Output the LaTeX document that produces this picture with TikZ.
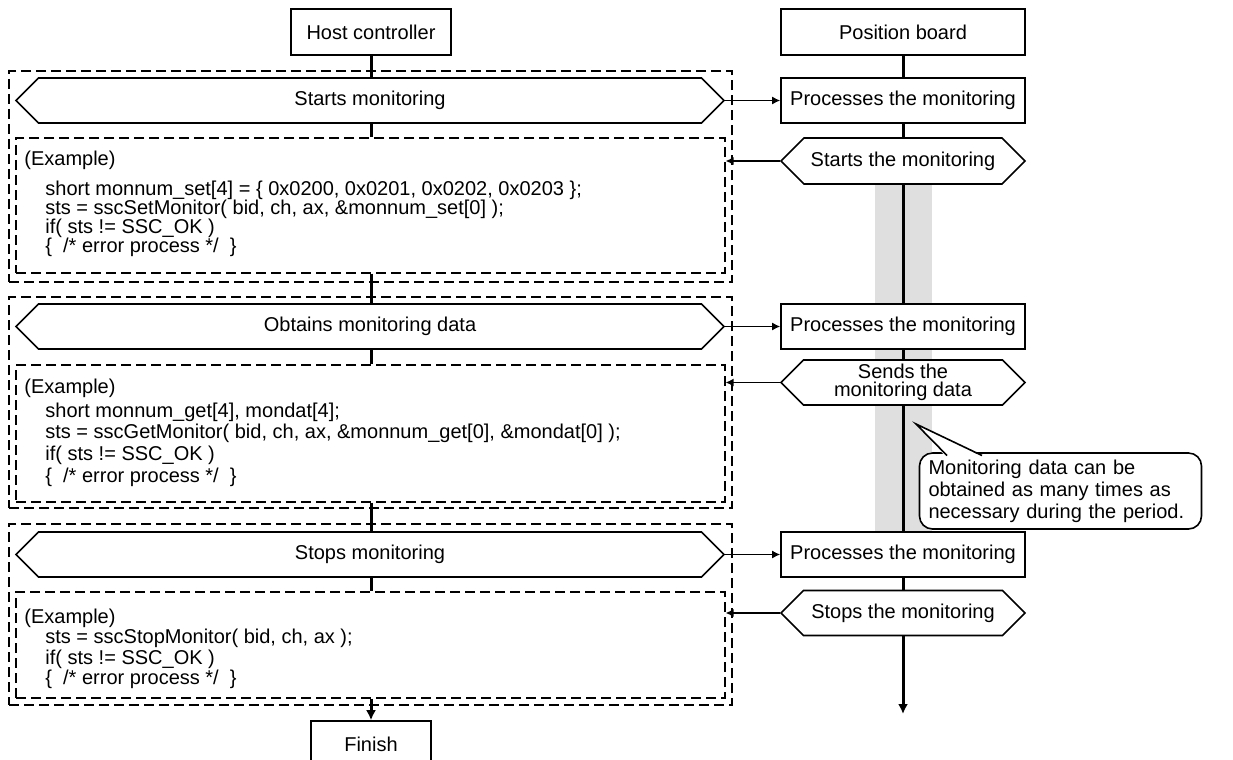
\documentclass[tikz,border=0pt]{standalone}
\usepackage{fontspec}
\setmainfont{Liberation Sans}
\usetikzlibrary{shapes.symbols}
\usetikzlibrary{arrows.meta}

\tikzset{
  box/.style={draw, line width=0.8pt, fill=white, minimum width=122pt, minimum height=22.5pt, inner sep=0pt},
  hexbox/.style={signal, signal to=west and east, draw, line width=0.8pt, fill=white, minimum height=22.5pt, inner sep=0pt},
  frame/.style={draw, dash pattern=on 5pt off 2.5pt, line width=0.6pt, inner sep=0pt},
  flow/.style={line width=1.5pt},
  msg/.style={line width=0.7pt, -{Latex[length=4pt,width=4pt]}},
  code/.style={anchor=base west, inner sep=0pt},
}

\begin{document}
\begin{tikzpicture}[x=0.5pt, y=-0.5pt, font=\fontsize{10}{11}\selectfont]
  \useasboundingbox (0,0) rectangle (1233,760);
  % period band
  \fill[gray!25] (875,184) rectangle (932,532);

  \node[box, minimum width=80pt, minimum height=23pt] (host) at (371,32) {Host controller};
  \node[box, minimum height=23pt] (board) at (903,32) {Position board};

  % dashed frames
  \node[frame, minimum width=361.5pt, minimum height=105.5pt] (out1) at (370.5,176.5) {};
  \node[frame, minimum width=361.5pt, minimum height=105.5pt] (out2) at (370.5,402.5) {};
  \node[frame, minimum width=361.5pt, minimum height=90.5pt] (out3) at (370.5,614.5) {};
  \node[frame, minimum width=354.5pt, minimum height=67.5pt] (in1) at (370.5,205.5) {};
  \node[frame, minimum width=354.5pt, minimum height=68.5pt] (in2) at (370.5,433.5) {};
  \node[frame, minimum width=354.5pt, minimum height=53pt] (in3) at (370.5,645) {};

  % host side
  \node[hexbox, minimum width=354pt] (hs1) at (370,100.5) {Starts monitoring};
  \node[hexbox, minimum width=354pt] (hs2) at (370,326.5) {Obtains monitoring data};
  \node[hexbox, minimum width=354pt] (hs3) at (370,554.5) {Stops monitoring};
  \node[box, minimum width=60pt, minimum height=23pt] (fin) at (371,744) {Finish};

  \node[code] (ex1) at (24,165) {(Example)};
  \node[code] (c1a) at (45,195) {short monnum\_set[4] = \{ 0x0200, 0x0201, 0x0202, 0x0203 \};};
  \node[code] (c1b) at (45,214) {sts = sscSetMonitor( bid, ch, ax, \&monnum\_set[0] );};
  \node[code] (c1c) at (45,233) {if( sts != SSC\_OK )};
  \node[code] (c1d) at (45,252) {\{ \ /* error process */ \ \}};

  \node[code] (ex2) at (24,393) {(Example)};
  \node[code] (c2a) at (45,417) {short monnum\_get[4], mondat[4];};
  \node[code] (c2b) at (45,438) {sts = sscGetMonitor( bid, ch, ax, \&monnum\_get[0], \&mondat[0] );};
  \node[code] (c2c) at (45,460) {if( sts != SSC\_OK )};
  \node[code] (c2d) at (45,482) {\{ \ /* error process */ \ \}};

  \node[code] (ex3) at (24,623) {(Example)};
  \node[code] (c3a) at (45,643) {sts = sscStopMonitor( bid, ch, ax );};
  \node[code] (c3b) at (45,664) {if( sts != SSC\_OK )};
  \node[code] (c3c) at (45,684) {\{ \ /* error process */ \ \}};

  % board side
  \node[box] (pb1) at (903,100.5) {Processes the monitoring};
  \node[box] (pb2) at (903,326.5) {Processes the monitoring};
  \node[box] (pb3) at (903,554.5) {Processes the monitoring};
  \node[hexbox, minimum width=122pt, minimum height=23pt] (bs1) at (903,161) {Starts the monitoring};
  \node[hexbox, minimum width=122pt, align=center, font=\fontsize{10}{9.3}\selectfont] (bs2) at (903,382.5) {Sends the\\monitoring data};
  \node[hexbox, minimum width=122pt] (bs3) at (903,613) {Stops the monitoring};
  \coordinate (bend) at (903,714);

  % note
  \node[draw, fill=white, rounded corners=6.5pt, line width=0.8pt, text width=132pt, inner xsep=4.5pt, minimum height=36pt, align=left] (note) at (1060.5,491) {Monitoring data can be\\obtained as many times as\\necessary during the period.};
  \coordinate (tip) at (916,424);
  \fill[white] (946,457) -- (tip) -- (983,457) -- cycle;
  \draw[line width=0.8pt] (947,455.5) -- (tip) -- (982,455.5);

  % lifelines
  \draw[flow] (host.south) -- (host.south |- hs1.north);
  \draw[flow] (hs1.south -| host) -- (in1.north -| host);
  \draw[flow] (in1.south -| host) -- (hs2.north -| host);
  \draw[flow] (hs2.south -| host) -- (in2.north -| host);
  \draw[flow] (in2.south -| host) -- (hs3.north -| host);
  \draw[flow] (hs3.south -| host) -- (in3.north -| host);
  \draw[flow, -{Latex[length=5pt,width=5pt]}] (in3.south -| host) -- (fin.north);

  \draw[flow] (board.south) -- (pb1.north);
  \draw[flow] (pb1.south) -- (bs1.north);
  \draw[flow] (bs1.south) -- (pb2.north);
  \draw[flow] (pb2.south) -- (bs2.north);
  \draw[flow] (bs2.south) -- (pb3.north);
  \draw[flow] (pb3.south) -- (bs3.north);
  \draw[flow, -{Latex[length=5pt,width=5pt]}] (bs3.south) -- (bend);

  % messages
  \draw[msg] (hs1.east) -- (pb1.west);
  \draw[msg] (hs2.east) -- (pb2.west);
  \draw[msg] (hs3.east) -- (pb3.west);
  \draw[msg] (bs1.west) -- (bs1.west -| in1.east);
  \draw[msg] (bs2.west) -- (bs2.west -| in2.east);
  \draw[msg] (bs3.west) -- (bs3.west -| in3.east);
\end{tikzpicture}
\end{document}
